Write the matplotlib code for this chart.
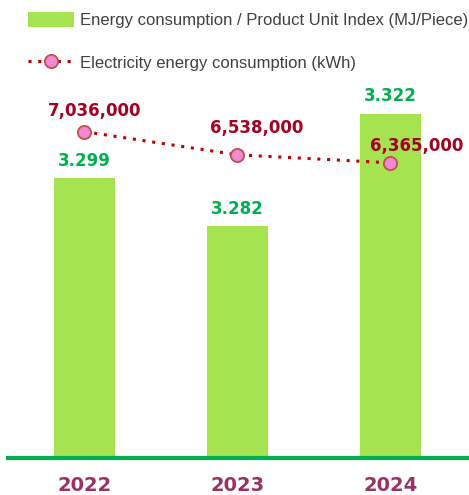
import matplotlib.pyplot as plt
from matplotlib.patches import Patch
from matplotlib.lines import Line2D

years = ["2022", "2023", "2024"]
unit_index = [3.299, 3.282, 3.322]
electricity = [7036000, 6538000, 6365000]

bar_color = "#a5e350"
green = "#00b050"
red = "#c00000"
dark_red = "#a50021"
year_color = "#993366"

fig = plt.figure(figsize=(4.69, 4.95), dpi=100)
ax = fig.add_axes([8 / 469, 37 / 495, 459 / 469, 371 / 495])
ax2 = ax.twinx()

x = list(range(len(years)))

# barras
ax.bar(x, unit_index, width=0.4, color=bar_color, zorder=2)
ax.set_ylim(3.2, 3.3314)
ax.set_xlim(-0.5, 2.5)
for xi, v in zip(x, unit_index):
    ax.annotate(f"{v:.3f}", (xi, v), xytext=(0, 6), textcoords="offset points",
                ha="center", va="bottom", color=green, fontsize=12,
                fontweight="bold", family="DejaVu Sans")

# linea
ax2.plot(x, electricity, linestyle=(0, (1, 2.2)), color=red, linewidth=2.2,
         marker="o", markersize=9.5, markerfacecolor="#f08ad0",
         markeredgecolor="#c0504d", markeredgewidth=1.3, zorder=3)
ax2.set_ylim(0, 8000000)
offsets = [(7, 15), (14, 19), (19, 12)]
for xi, v, off in zip(x, electricity, offsets):
    ax2.annotate(f"{v:,}", (xi, v), xytext=off, textcoords="offset points",
                 ha="center", va="center", color=dark_red, fontsize=12,
                 fontweight="bold", family="DejaVu Sans")

for a in (ax, ax2):
    for s in a.spines.values():
        s.set_visible(False)
    a.set_yticks([])
ax.spines["bottom"].set_visible(True)
ax.spines["bottom"].set_color(green)
ax.spines["bottom"].set_linewidth(3)
ax.set_xticks(x)
ax.set_xticklabels(years, color=year_color, fontsize=14, fontweight="bold",
                   family="DejaVu Sans")
ax.tick_params(axis="x", length=0, pad=13)

handles = [
    Patch(facecolor=bar_color, edgecolor="none"),
    Line2D([], [], linestyle=(0, (1, 2.2)), color=red, linewidth=2.2,
           marker="o", markersize=9.5, markerfacecolor="#f08ad0",
           markeredgecolor="#c0504d", markeredgewidth=1.3),
]
labels = ["Energy consumption / Product Unit Index (MJ/Piece)",
          "Electricity energy consumption (kWh)"]
fig.legend(handles, labels, loc="upper left", bbox_to_anchor=(13 / 469, 1 + 3 / 495),
           frameon=False, handlelength=2.75, handleheight=1.0, handletextpad=0.35,
           labelspacing=1.6, prop={"family": "Liberation Sans", "size": 12},
           labelcolor="#404040")

fig.savefig("out.png", dpi=100)
